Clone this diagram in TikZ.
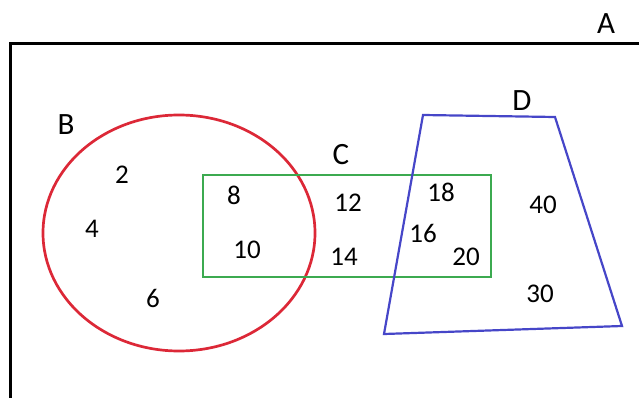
\documentclass[tikz,border=0pt]{standalone}
\usepackage{fontspec}
\setmainfont{Carlito}
\usepackage{xcolor}
\definecolor{setred}{RGB}{220,40,55}
\definecolor{setgreen}{RGB}{60,170,80}
\definecolor{setblue}{RGB}{70,70,200}

\begin{document}
\begin{tikzpicture}[x=1pt, y=-1pt,
  num/.style = {font=\fontsize{27}{30}\selectfont, inner sep=0pt},
  lab/.style = {font=\fontsize{31}{34}\selectfont, inner sep=0pt}]
\useasboundingbox (0,0) rectangle (639,398);
\draw[line width=3pt] (639,44) -- (10,44) -- (10,398);
\draw[setred, line width=2.7pt] (179,233) ellipse [x radius=136, y radius=118];
\draw[setgreen, line width=2.7pt] (203,175) rectangle (491,277);
\draw[setblue, line width=2.2pt] (423,115) -- (555,117) -- (622,326) -- (384,334) -- cycle;
\node[lab] (A) at (606,24) {A};
\node[lab] (B) at (66,125) {B};
\node[lab] (C) at (341,155) {C};
\node[lab] (D) at (522,101) {D};
\node[num] (n2) at (122,175) {2};
\node[num] (n4) at (92,229) {4};
\node[num] (n6) at (153,298) {6};
\node[num] (n8) at (234,195) {8};
\node[num] (n10) at (247,250) {10};
\node[num] (n12) at (348,203) {12};
\node[num] (n14) at (344,257) {14};
\node[num] (n18) at (441,192) {18};
\node[num] (n16) at (423,233) {16};
\node[num] (n20) at (466,257) {20};
\node[num] (n40) at (543,205) {40};
\node[num] (n30) at (540,294) {30};
\end{tikzpicture}
\end{document}
